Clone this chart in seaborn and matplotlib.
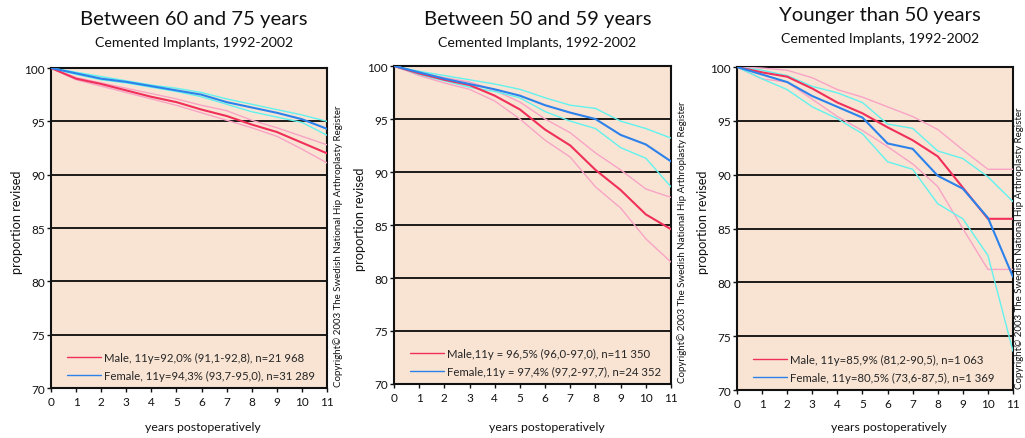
import matplotlib
matplotlib.use("Agg")
import matplotlib.pyplot as plt
import seaborn as sns
import pandas as pd
from matplotlib.lines import Line2D

# ---- data: cumulative implant survival (%) by year after operation ----
years = [0, 1, 2, 3, 4, 5, 6, 7, 8, 9, 10, 11]

# Age 60-75
a_male = [100, 99.0, 98.5, 97.9, 97.3, 96.8, 96.1, 95.5, 94.7, 94.0, 93.0, 92.0]
a_male_hi = [100, 99.1, 98.6, 98.1, 97.6, 97.1, 96.5, 96.0, 95.1, 94.4, 93.6, 92.8]
a_male_lo = [100, 98.9, 98.3, 97.7, 97.1, 96.5, 95.8, 95.1, 94.4, 93.6, 92.4, 91.1]
a_female = [100, 99.5, 99.0, 98.7, 98.3, 97.9, 97.5, 96.8, 96.3, 95.8, 95.2, 94.3]
a_female_hi = [100, 99.6, 99.2, 98.8, 98.4, 98.1, 97.7, 97.1, 96.6, 96.1, 95.6, 95.0]
a_female_lo = [100, 99.4, 98.9, 98.6, 98.2, 97.8, 97.3, 96.6, 95.9, 95.4, 94.9, 93.7]

# Age 50-59
b_male = [100, 99.3, 98.7, 98.2, 97.2, 95.9, 94.0, 92.5, 90.2, 88.3, 86.0, 84.6]
b_male_hi = [100, 99.4, 98.9, 98.5, 97.7, 96.6, 95.0, 93.7, 91.8, 90.2, 88.4, 87.6]
b_male_lo = [100, 99.1, 98.4, 97.8, 96.7, 95.0, 93.0, 91.4, 88.6, 86.6, 83.7, 81.5]
b_female = [100, 99.4, 98.8, 98.3, 97.8, 97.2, 96.3, 95.6, 95.0, 93.5, 92.6, 91.0]
b_female_hi = [100, 99.5, 99.1, 98.7, 98.3, 97.8, 97.0, 96.3, 96.0, 94.8, 94.1, 93.2]
b_female_lo = [100, 99.2, 98.6, 98.0, 97.6, 97.0, 95.7, 94.8, 94.1, 92.3, 91.3, 88.6]

# Younger than 50
c_male = [100, 99.5, 99.1, 98.0, 96.7, 95.7, 94.4, 93.2, 91.7, 88.8, 85.9, 85.9]
c_male_hi = [100, 99.9, 99.7, 99.0, 97.9, 97.2, 96.3, 95.4, 94.2, 92.3, 90.5, 90.5]
c_male_lo = [100, 98.9, 98.6, 97.0, 95.4, 94.1, 92.6, 91.0, 88.9, 85.0, 81.2, 81.2]
c_female = [100, 99.3, 98.6, 97.3, 96.3, 95.3, 92.9, 92.4, 89.9, 88.7, 86.0, 80.5]
c_female_hi = [100, 99.7, 99.2, 98.2, 97.6, 96.7, 94.7, 94.3, 92.2, 91.5, 89.8, 87.5]
c_female_lo = [100, 98.9, 97.9, 96.3, 95.2, 93.8, 91.2, 90.5, 87.3, 85.9, 82.5, 73.6]

titles = ["Between 60 and 75 years", "Between 50 and 59 years", "Younger than 50 years"]
subtitle = "Cemented Implants, 1992-2002"
male_labels = ["Male, 11y=92,0% (91,1-92,8), n=21 968",
               "Male,11y = 96,5% (96,0-97,0), n=11 350",
               "Male, 11y=85,9% (81,2-90,5), n=1 063"]
female_labels = ["Female, 11y=94,3% (93,7-95,0), n=31 289",
                 "Female,11y = 97,4% (97,2-97,7), n=24 352",
                 "Female, 11y=80,5% (73,6-87,5), n=1 369"]
y_ticks = [70, 75, 80, 85, 90, 95, 100]
x_ticks = years
copyright_text = "Copyright\u00a9 2003 The Swedish National Hip Arthroplasty Register"

# ---- styling ----
sns.set_theme(style="white")
plt.rcParams['font.family'] = ['Lato', 'DejaVu Sans']

BG = "#F9E4D3"
RED = "#F0305A"
PINK = "#F8A3C6"
BLUE = "#2C82EA"
CYAN = "#62F2EE"
INK = "#111111"

W, H = 1025, 439
fig = plt.figure(figsize=(W / 100, H / 100), dpi=100)
fig.patch.set_facecolor("white")

# axes boxes in pixels: left, top, right, bottom
boxes = [(51, 69, 327, 389), (394, 67, 671, 385), (737, 68, 1013, 391)]
title_dy = [0, 0, -4]

panels = [
    (a_male, a_male_hi, a_male_lo, a_female, a_female_hi, a_female_lo),
    (b_male, b_male_hi, b_male_lo, b_female, b_female_hi, b_female_lo),
    (c_male, c_male_hi, c_male_lo, c_female, c_female_hi, c_female_lo),
]

for i, (box, series) in enumerate(zip(boxes, panels)):
    l, t, r, b = box
    ax = fig.add_axes([l / W, (H - b) / H, (r - l) / W, (b - t) / H])
    ax.set_facecolor(BG)
    male, male_hi, male_lo, female, female_hi, female_lo = series

    df = pd.DataFrame({"year": years})
    for vals, col, lw in [(male_hi, PINK, 1.0), (male_lo, PINK, 1.0),
                          (female_hi, CYAN, 1.0), (female_lo, CYAN, 1.0),
                          (male, RED, 1.5), (female, BLUE, 1.5)]:
        df["v"] = vals
        sns.lineplot(data=df, x="year", y="v", ax=ax, color=col, lw=lw,
                     zorder=3, legend=False)

    ax.set_xlim(0, 11)
    ax.set_ylim(70, 100)
    ax.set_xticks(x_ticks)
    ax.set_yticks(y_ticks)
    ax.set_xlabel("")
    ax.set_ylabel("")
    for yv in y_ticks[1:-1]:
        ax.axhline(yv, color="#1e1a18", lw=1.4, zorder=2)
    for s in ax.spines.values():
        s.set_color(INK)
        s.set_linewidth(1.5)
        s.set_visible(True)
    ax.tick_params(axis="both", which="both", direction="out", length=3,
                   width=1, color=INK, labelsize=8.5, pad=1.5,
                   labelcolor=INK, bottom=True, left=True)
    ax.tick_params(axis="x", pad=3)

    handles = [Line2D([], [], color=RED, lw=1.0), Line2D([], [], color=BLUE, lw=1.0)]
    ax.legend(handles, [male_labels[i], female_labels[i]], loc="lower left",
              bbox_to_anchor=((l + 16) / W, (H - b + 7) / H),
              bbox_transform=fig.transFigure, frameon=False, fontsize=8.2,
              handlelength=2.95, handletextpad=0.27, labelspacing=0.6,
              borderpad=0, borderaxespad=0)

    cx = (l + r) / 2
    fig.text((cx + 5) / W, 1 - (20 + title_dy[i]) / H, titles[i],
             ha="center", va="center", fontsize=14.6, color=INK)
    fig.text((cx + 5) / W, 1 - (43 + title_dy[i]) / H, subtitle,
             ha="center", va="center", fontsize=10.2, color=INK)
    fig.text((l - 34) / W, 1 - ((t + b) / 2 - 7) / H, "proportion revised",
             rotation=90, ha="center", va="center", fontsize=9.2, color=INK)
    fig.text((cx + 14) / W, 1 - 428 / H, "years postoperatively",
             ha="center", va="center", fontsize=8.8, color=INK)
    fig.text(min(r + 11, 1019) / W, 1 - (b - 2) / H, copyright_text, rotation=90,
             ha="center", va="bottom", fontsize=7, color=INK)

fig.savefig("out.png", dpi=100, facecolor="white")
